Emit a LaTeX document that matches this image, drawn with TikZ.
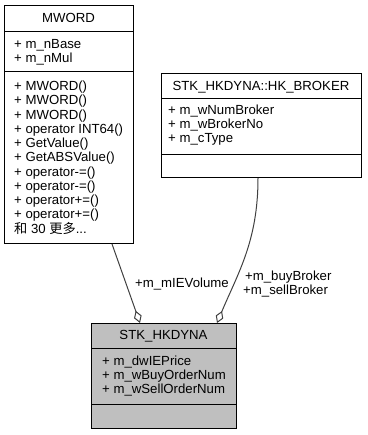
\documentclass[tikz,border=0pt]{standalone}
\usepackage{fontspec}
\setmainfont{Liberation Sans}
\newfontfamily\cjkfont{Noto Sans CJK SC}
\usetikzlibrary{arrows.meta,calc}
\definecolor{edgegray}{HTML}{404040}
\definecolor{focusfill}{HTML}{BFBFBF}
\begin{document}
\begin{tikzpicture}[x=1pt,y=1pt,
  classbox/.style={draw=black, line width=1pt, inner sep=0pt, anchor=north west},
  txt/.style={inner sep=0pt, font=\fontsize{13.2}{14}\selectfont},
  member/.style={txt, anchor=base west},
  classtitle/.style={txt, anchor=base},
  sepline/.style={draw=black, line width=1pt},
  edge/.style={draw=edgegray, line width=1pt},
  aggr/.style={edge, -{Diamond[open, length=13pt, width=8pt, line width=1pt]}}]
\useasboundingbox (0,0) rectangle (367,-435);

% class boxes
\node[classbox, minimum width=129pt, minimum height=238pt] (mword) at (4,-5) {};
\node[classbox, minimum width=200pt, minimum height=104pt] (broker) at (161,-73) {};
\node[classbox, fill=focusfill, minimum width=145pt, minimum height=105pt] (stk) at (91,-323) {};

% compartment separators
\draw[sepline] (mword.west |- 0,-32) -- (mword.east |- 0,-32);
\draw[sepline] (mword.west |- 0,-72) -- (mword.east |- 0,-72);
\draw[sepline] (broker.west |- 0,-99) -- (broker.east |- 0,-99);
\draw[sepline] (broker.west |- 0,-155) -- (broker.east |- 0,-155);
\draw[sepline] (stk.west |- 0,-348) -- (stk.east |- 0,-348);
\draw[sepline] (stk.west |- 0,-404) -- (stk.east |- 0,-404);

% MWORD
\node[classtitle] (mwordT) at (68.5,-22.6) {MWORD};
\node[member] (mwA1) at (14,-48.6) {+ m\_nBase};
\node[member] (mwA2) at (14,-62.6) {+ m\_nMul};
\foreach \t [count=\i from 0] in {%
  {+ MWORD()},{+ MWORD()},{+ MWORD()},{+ operator INT64()},{+ GetValue()},
  {+ GetABSValue()},{+ operator-=()},{+ operator-=()},{+ operator+=()},
  {+ operator+=()}}
  \node[member] (mwM\i) at (14,{-90.6-14.25*\i}) {\t};
\node[member] (mwMore) at (14,{-90.6-14.25*10}) {{\cjkfont 和} 30 {\cjkfont 更多}...};

% STK_HKDYNA::HK_BROKER
\node[classtitle] (brokerT) at (261,-90.6) {STK\_HKDYNA::HK\_BROKER};
\node[member] (brA1) at (168,-114.6) {+ m\_wNumBroker};
\node[member] (brA2) at (168,-128.6) {+ m\_wBrokerNo};
\node[member] (brA3) at (168,-142.6) {+ m\_cType};

% STK_HKDYNA
\node[classtitle] (stkT) at (163.5,-339.6) {STK\_HKDYNA};
\node[member] (stA1) at (102,-365.6) {+ m\_dwIEPrice};
\node[member] (stA2) at (102,-379.6) {+ m\_wBuyOrderNum};
\node[member] (stA3) at (102,-393.6) {+ m\_wSellOrderNum};

% aggregation connectors
\draw[aggr] ($(mword.south west)+(108,0)$) -- ($(stk.north west)+(49,0)$);
\draw[aggr] ($(broker.south west)+(97,0)$) .. controls +(0,-63) and +(21,50) .. ($(stk.north west)+(126,0)$);

% role labels
\node[member] (lblVol) at (135,-287.6) {+m\_mIEVolume};
\node[member] (lblBuy) at (245,-280.6) {+m\_buyBroker};
\node[member] (lblSell) at (243,-294.6) {+m\_sellBroker};
\end{tikzpicture}
\end{document}
